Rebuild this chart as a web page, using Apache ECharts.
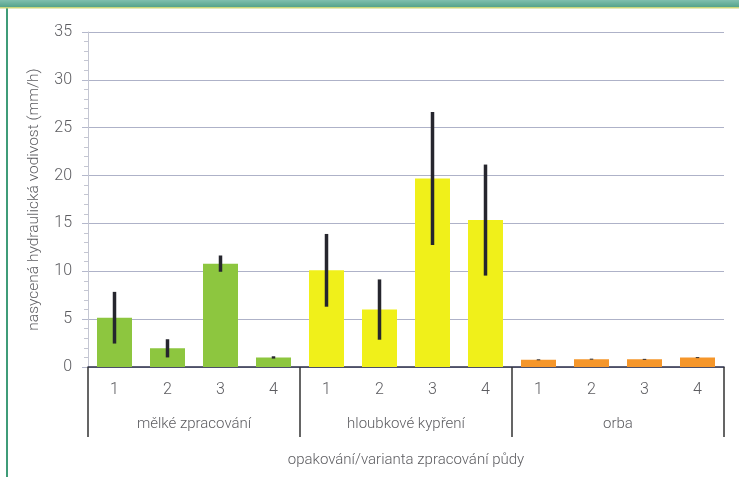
<!DOCTYPE html>
<html>
<head>
<meta charset="utf-8">
<script src="https://cdn.jsdelivr.net/npm/echarts@6/dist/echarts.min.js"></script>
<style>
  html, body { margin: 0; padding: 0; background: #ffffff; }
  #chart { width: 739px; height: 477px; }
</style>
</head>
<body>
<div id="chart"></div>
<script>
// Tillage variants and repetitions
const groups = ['mělké zpracování', 'hloubkové kypření', 'orba'];
const repetitions = ['1', '2', '3', '4'];

// Saturated hydraulic conductivity (mm/h) and its spread, per repetition
const melkeValues = [5.15, 1.95, 10.8, 1.0];
const melkeErrors = [2.7, 0.95, 0.85, 0.12];
const hloubkoveValues = [10.1, 6.0, 19.7, 15.35];
const hloubkoveErrors = [3.8, 3.15, 6.95, 5.8];
const orbaValues = [0.75, 0.82, 0.8, 0.98];
const orbaErrors = [0.05, 0.05, 0.05, 0.05];

// Y axis range
const yMin = 0;
const yMax = 35;
const yStep = 5;

const groupColors = ['#8dc63f', '#f0f01a', '#f5962a'];
const groupValues = [melkeValues, hloubkoveValues, orbaValues];
const groupErrors = [melkeErrors, hloubkoveErrors, orbaErrors];

const categories = [];
const barData = [];
const errorData = [];
groups.forEach((g, gi) => {
  repetitions.forEach((r, ri) => {
    const idx = categories.length;
    categories.push(r);
    const v = groupValues[gi][ri];
    const e = groupErrors[gi][ri];
    barData.push({ value: v, itemStyle: { color: groupColors[gi] } });
    errorData.push([idx, v - e, v + e]);
  });
});

const textColor = '#5c5c60';
const font = 'Roboto, "Open Sans", sans-serif';
const weight = 300;

const chart = echarts.init(document.getElementById('chart'), null, { renderer: 'canvas' });

chart.setOption({
  backgroundColor: '#ffffff',
  animation: false,
  graphic: [
    // frame: coloured band on top and rule on the left
    { type: 'rect', left: 0, top: 0, shape: { width: 739, height: 8 },
      style: { fill: new echarts.graphic.LinearGradient(0, 0, 0, 1, [
        { offset: 0, color: '#7fbfae' }, { offset: 1, color: '#4f9f86' }]) }, z: 10 },
    { type: 'rect', left: 0, top: 7, shape: { width: 739, height: 1.5 },
      style: { fill: '#c9d67a' }, z: 11 },
    { type: 'rect', left: 6, top: 8, shape: { width: 2, height: 469 },
      style: { fill: '#3f9c78' }, z: 10 }
  ],
  grid: { left: 88, right: 15, top: 32, bottom: 110, containLabel: false },
  xAxis: [
    {
      type: 'category',
      data: categories,
      position: 'bottom',
      axisLine: { show: true, lineStyle: { color: '#2c2f48', width: 1.5 } },
      axisTick: { show: false },
      axisLabel: { color: textColor, fontSize: 16, fontWeight: weight, fontFamily: font, margin: 15, interval: 0 },
      splitLine: { show: false }
    },
    {
      type: 'category',
      data: groups,
      position: 'bottom',
      axisLine: { show: false },
      axisTick: { show: true, length: 70, interval: 0, lineStyle: { color: '#333333', width: 1.5 } },
      axisLabel: { color: textColor, fontSize: 15, fontWeight: weight, fontFamily: font, margin: 50, interval: 0 },
      splitLine: { show: false },
      name: 'opakování/varianta zpracování půdy',
      nameLocation: 'middle',
      nameGap: 86,
      nameTextStyle: { color: textColor, fontSize: 15, fontWeight: weight, fontFamily: font }
    }
  ],
  yAxis: {
    type: 'value',
    min: yMin,
    max: yMax,
    interval: yStep,
    axisLine: { show: true, lineStyle: { color: '#c4c6d2', width: 1 } },
    axisTick: { show: true, length: 6, lineStyle: { color: '#b4b8cc' } },
    minorTick: { show: true, splitNumber: 5, length: 4, lineStyle: { color: '#c4c6d2' } },
    axisLabel: { color: textColor, fontSize: 16, fontWeight: weight, fontFamily: font, margin: 16 },
    splitLine: { show: true, lineStyle: { color: '#aeb2c8', width: 1 } },
    name: 'nasycená hydraulická vodivost (mm/h)',
    nameLocation: 'middle',
    nameGap: 46,
    nameRotate: 90,
    nameTextStyle: { color: textColor, fontSize: 15.5, fontWeight: weight, fontFamily: font }
  },
  series: [
    {
      type: 'bar',
      xAxisIndex: 0,
      data: barData,
      barWidth: 35,
      z: 2
    },
    {
      type: 'custom',
      xAxisIndex: 0,
      data: errorData,
      z: 3,
      renderItem: function (params, api) {
        const lo = api.coord([api.value(0), api.value(1)]);
        const hi = api.coord([api.value(0), api.value(2)]);
        return {
          type: 'line',
          shape: { x1: lo[0], y1: lo[1], x2: hi[0], y2: hi[1] },
          style: { stroke: '#26262e', lineWidth: 3.5 }
        };
      }
    }
  ]
});
</script>
</body>
</html>
